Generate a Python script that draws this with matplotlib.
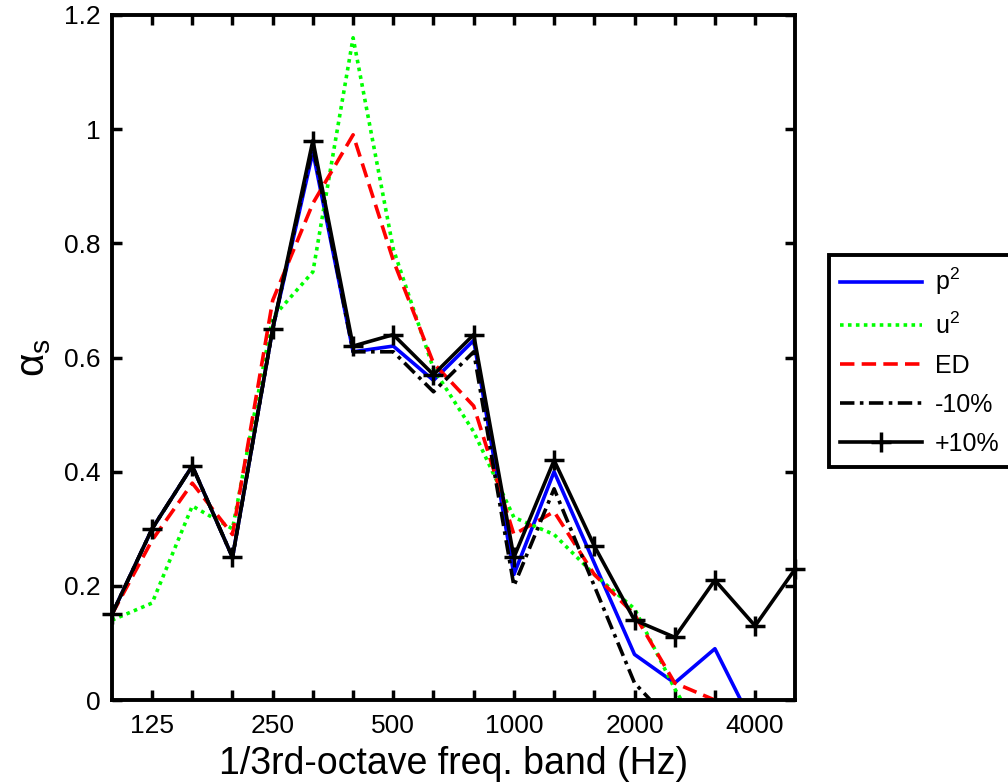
import matplotlib
matplotlib.use("Agg")
import matplotlib.pyplot as plt
import numpy as np

plt.rcParams['font.family'] = ['Liberation Sans', 'DejaVu Sans']
plt.rcParams['mathtext.fontset'] = 'custom'
plt.rcParams['mathtext.rm'] = 'Liberation Sans'
plt.rcParams['mathtext.it'] = 'Liberation Sans'

bands = [100, 125, 160, 200, 250, 315, 400, 500, 630, 800, 1000, 1250, 1600, 2000, 2500, 3150, 4000, 5000]
tick_labels = ['125', '250', '500', '1000', '2000', '4000']

p2 = [0.15, 0.30, 0.41, 0.25, 0.65, 0.96, 0.61, 0.62, 0.56, 0.63, 0.22, 0.40, 0.24, 0.08, 0.03, 0.09, -0.05, -0.10]
u2 = [0.14, 0.17, 0.34, 0.30, 0.67, 0.75, 1.16, 0.79, 0.58, 0.47, 0.32, 0.29, 0.22, 0.16, 0.02, -0.10, -0.15, -0.20]
ed = [0.15, 0.28, 0.38, 0.29, 0.70, 0.87, 0.99, 0.77, 0.59, 0.515, 0.29, 0.33, 0.22, 0.15, 0.03, 0.00, -0.05, -0.10]
minus10 = [0.15, 0.30, 0.41, 0.25, 0.65, 0.97, 0.61, 0.61, 0.54, 0.61, 0.20, 0.37, 0.20, 0.03, -0.045, -0.10, -0.15, -0.20]
plus10 = [0.15, 0.30, 0.41, 0.25, 0.65, 0.98, 0.62, 0.64, 0.57, 0.64, 0.25, 0.42, 0.27, 0.14, 0.11, 0.21, 0.13, 0.23]

x = np.arange(len(bands))

fig = plt.figure(figsize=(10.08, 7.84), dpi=100)
ax = fig.add_axes([0.111, 0.107, 0.678, 0.874])

lw = 2.6
ax.plot(x, p2, color='#0000ff', lw=lw, label='p$^2$')
ax.plot(x, u2, color='#00ff00', lw=lw, ls=(0, (1, 1.2)), label='u$^2$')
ax.plot(x, ed, color='#ff0000', lw=lw, ls=(0, (4, 2)), label='ED')
ax.plot(x, minus10, color='black', lw=lw, ls=(0, (4, 1.5, 1, 1.5)), label='-10%')
ax.plot(x, plus10, color='black', lw=lw, marker='+', ms=15, mew=2.5, label='+10%', clip_on=False)

ax.set_xlim(0, len(bands) - 1)
ax.set_ylim(0, 1.2)
tick_pos = [bands.index(int(t)) for t in tick_labels]
ax.set_xticks(tick_pos)
ax.set_xticklabels(tick_labels)
ax.set_xticks(x[1:-1], minor=True)
ax.set_yticks([0, 0.2, 0.4, 0.6, 0.8, 1.0, 1.2])
ax.set_yticklabels(['0', '0.2', '0.4', '0.6', '0.8', '1', '1.2'])

for s in ax.spines.values():
    s.set_linewidth(2.8)
ax.tick_params(axis='both', which='both', direction='in', top=True, right=True,
               width=2.5, labelsize=19, pad=8)
ax.tick_params(axis='x', which='major', pad=10)
ax.tick_params(which='major', length=7)
ax.tick_params(which='minor', length=7)

ax.set_xlabel('1/3rd-octave freq. band (Hz)', fontsize=27, labelpad=6)
ax.set_ylabel(r'$\alpha_\mathrm{s}$', fontsize=29, labelpad=8)

leg = fig.legend(loc='upper left', bbox_to_anchor=(0.822, 0.675), fontsize=18,
                 frameon=True, fancybox=False, framealpha=1, handlelength=3.3, borderpad=0.45,
                 labelspacing=0.6, handletextpad=0.5, borderaxespad=0)
leg.get_frame().set_edgecolor('black')
leg.get_frame().set_linewidth(2.8)

fig.savefig('out.png', dpi=100)
